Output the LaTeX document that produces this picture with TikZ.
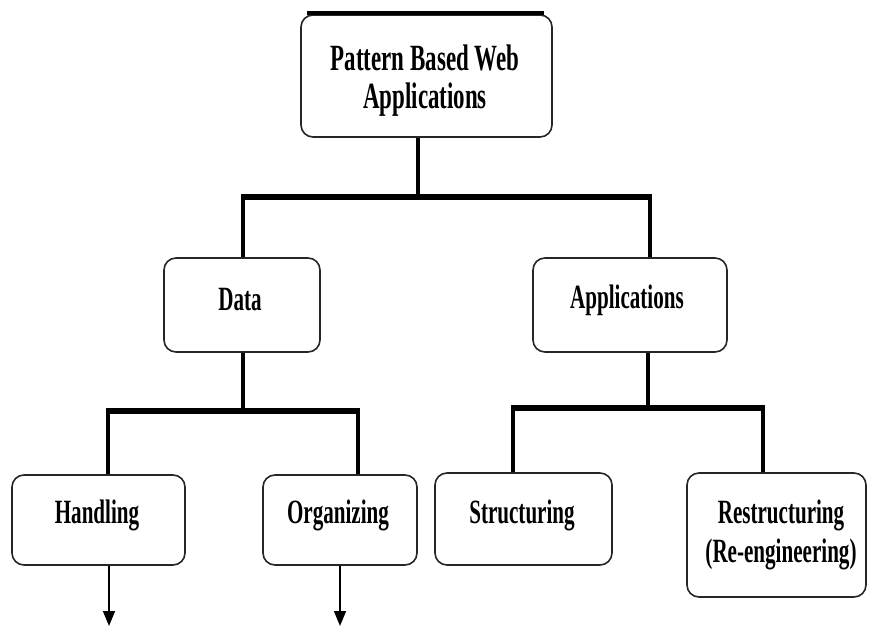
\documentclass[tikz,border=0pt]{standalone}
\usepackage{fontspec}
\newfontfamily\diafont{Liberation Serif}[FakeStretch=0.62]
\usetikzlibrary{arrows.meta}
\tikzset{
  box/.style={draw=black!85, line width=1.6pt, rounded corners=12pt, fill=white, inner sep=0pt},
  lbl/.style={font=\diafont\bfseries\fontsize{34}{39}\selectfont, align=center, inner sep=0pt},
  biglbl/.style={lbl, font=\diafont\bfseries\fontsize{37}{38}\selectfont},
  bar/.style={line width=6pt},
  stem/.style={line width=4pt},
  flow/.style={line width=1.6pt, -{Triangle[width=12pt,length=15pt]}}
}
\begin{document}
\begin{tikzpicture}[x=1pt,y=-1pt]
\useasboundingbox (0,0) rectangle (869,626);

% boxes
\node[box, minimum width=251pt, minimum height=122pt] (top) at (426.5,76) {};
\node[box, minimum width=156pt, minimum height=94pt] (data) at (242,305) {};
\node[box, minimum width=194pt, minimum height=94pt] (apps) at (630,305) {};
\node[box, minimum width=173pt, minimum height=90pt] (hand) at (98.5,520) {};
\node[box, minimum width=154pt, minimum height=90pt] (org) at (340,520) {};
\node[box, minimum width=177pt, minimum height=92pt] (struct) at (523.5,519) {};
\node[box, minimum width=179pt, minimum height=124pt] (restr) at (776.5,535) {};

% labels
\node[biglbl] (ttop) at (425,81) {Pattern Based Web\\Applications};
\node[lbl] (tdata) at (240,300) {Data};
\node[lbl] (tapps) at (627,300) {Applications};
\node[lbl] (thand) at (97,515) {Handling};
\node[lbl] (torg) at (338,515) {Organizing};
\node[lbl] (tstruct) at (522,515) {Structuring};
\node[lbl] (trestr) at (781,535) {Restructuring\\(Re-engineering)};

% thick edge along the top of the root box
\draw[line width=4pt] ([xshift=7pt,yshift=1pt]top.north west) -- ([xshift=-9pt,yshift=1pt]top.north east);

% junction points of the tree
\coordinate (j0) at (418,197);
\coordinate (jl) at (243,197);
\coordinate (jr) at (650,197);
\coordinate (k0) at (243,411);
\coordinate (kl) at (108,411);
\coordinate (kr) at (358,411);
\coordinate (m0) at (648,408);
\coordinate (ml) at (513,408);
\coordinate (mr) at (763,408);

% root level
\draw[stem] (top.south -| j0) -- (j0);
\draw[bar] ([xshift=-2pt]jl) -- ([xshift=2pt]jr);
\draw[stem] (jl) -- (data.north -| jl);
\draw[stem] (jr) -- (apps.north -| jr);

% data branch
\draw[stem] (data.south -| k0) -- (k0);
\draw[bar] ([xshift=-2pt]kl) -- ([xshift=2pt]kr);
\draw[stem] (kl) -- (hand.north -| kl);
\draw[stem] (kr) -- (org.north -| kr);

% applications branch
\draw[stem] (apps.south -| m0) -- (m0);
\draw[bar] ([xshift=-2pt]ml) -- ([xshift=2pt]mr);
\draw[stem] (ml) -- (struct.north -| ml);
\draw[stem] (mr) -- (restr.north -| mr);

% outgoing arrows
\coordinate (a1) at (109,626);
\coordinate (a2) at (340,626);
\draw[flow] (hand.south -| a1) -- (a1);
\draw[flow] (org.south -| a2) -- (a2);
\end{tikzpicture}
\end{document}
